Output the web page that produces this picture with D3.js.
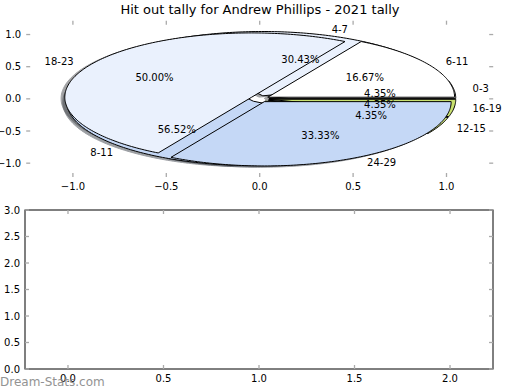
<!DOCTYPE html>
<html>
<head>
<meta charset="utf-8">
<script src="https://cdn.jsdelivr.net/npm/d3@7"></script>
<style>
  html, body { margin: 0; padding: 0; background: #fff; }
  svg { display: block; font-family: "DejaVu Sans", sans-serif; }
</style>
</head>
<body>
<svg id="chart" width="520" height="390"></svg>
<script>
// ---------- data ----------
const title = "Hit out tally for Andrew Phillips - 2021 tally";
// first pie drawn (behind)
const labelsA = ["0-3", "4-7", "8-11", "12-15", "16-19"];
const valuesA = [1, 7, 13, 1, 1];
const colorsA = ["#ffffff", "#eaf1fd", "#c5d8f6", "#cfe47e", "#c8e06e"];
// second pie drawn (on top)
const labelsB = ["6-11", "18-23", "24-29"];
const valuesB = [1, 3, 2];
const colorsB = ["#ffffff", "#eaf1fd", "#c5d8f6"];
const explode = 0.05;
const topXTicks = [-1.0, -0.5, 0.0, 0.5, 1.0];
const topYTicks = [1.0, 0.5, 0.0, -0.5, -1.0];
const botXTicks = [0.0, 0.5, 1.0, 1.5, 2.0];
const botYTicks = [0.0, 0.5, 1.0, 1.5, 2.0, 2.5, 3.0];

// ---------- setup ----------
const svg = d3.select("#chart");
const fmt = d3.format(".1f");
const pctFmt = v => d3.format(".2f")(v) + "%";

const xT = d3.scaleLinear().domain([-1.25, 1.25]).range([26.2, 493.2]);
const yT = d3.scaleLinear().domain([-1.215, 1.215]).range([177, 20.7]);
const xB = d3.scaleLinear().domain([-0.225, 2.225]).range([25, 493]);
const yB = d3.scaleLinear().domain([0, 3]).range([369, 210]);

const line = d3.line().x(d => xT(d[0])).y(d => yT(d[1]));

function wedges(values, colors, labels) {
  const total = d3.sum(values);
  const cum = [0, ...d3.cumsum(values)];
  return values.map((v, i) => {
    const t1 = cum[i] / total * 360, t2 = cum[i + 1] / total * 360;
    const tm = (t1 + t2) / 2 * Math.PI / 180;
    const cx = explode * Math.cos(tm), cy = explode * Math.sin(tm);
    const pts = [[cx, cy]];
    const n = Math.max(8, Math.ceil((t2 - t1) / 1));
    for (let k = 0; k <= n; k++) {
      const a = (t1 + (t2 - t1) * k / n) * Math.PI / 180;
      pts.push([cx + Math.cos(a), cy + Math.sin(a)]);
    }
    return {pts, tm, cx, cy, color: colors[i], label: labels[i], pct: v / total * 100};
  });
}

const wA = wedges(valuesA, colorsA, labelsA);
const wB = wedges(valuesB, colorsB, labelsB);

// shadows (below all wedges)
const gShadow = svg.append("g");
[...wA, ...wB].forEach(w => {
  const c = d3.rgb(w.color);
  const sc = d3.rgb(c.r * 0.3, c.g * 0.3, c.b * 0.3);
  gShadow.append("path")
    .attr("d", line(w.pts.map(p => [p[0] - 0.02, p[1] - 0.02])) + "Z")
    .attr("fill", sc).attr("stroke", sc).attr("stroke-width", 1)
    .attr("opacity", 0.5);
});

// wedges
const gW = svg.append("g");
[...wA, ...wB].forEach(w => {
  gW.append("path")
    .attr("d", line(w.pts) + "Z")
    .attr("fill", w.color).attr("stroke", "#000").attr("stroke-width", 1)
    .attr("stroke-linejoin", "round");
});

// texts
const gT = svg.append("g").attr("font-size", 10).attr("fill", "#000");
[...wA, ...wB].forEach(w => {
  const lx = w.cx + 1.1 * Math.cos(w.tm), ly = w.cy + 1.1 * Math.sin(w.tm);
  gT.append("text").attr("x", xT(lx)).attr("y", yT(ly))
    .attr("dy", "0.35em")
    .attr("text-anchor", lx > 0 ? "start" : "end")
    .text(w.label);
  const px = w.cx + 0.6 * Math.cos(w.tm), py = w.cy + 0.6 * Math.sin(w.tm);
  gT.append("text").attr("x", xT(px)).attr("y", yT(py))
    .attr("dy", "0.35em").attr("text-anchor", "middle")
    .text(pctFmt(w.pct));
});

// ---------- axes helpers ----------
const tickColor = "#aaa";
function drawTicks(g, xs, ys, xTicks, yTicks, box, withLabels) {
  const [L, R, T, B] = box;
  xTicks.forEach(t => {
    const X = xs(t);
    g.append("line").attr("x1", X).attr("x2", X).attr("y1", B).attr("y2", B - 4)
      .attr("stroke", tickColor).attr("stroke-width", 1.3);
    g.append("line").attr("x1", X).attr("x2", X).attr("y1", T).attr("y2", T + 4)
      .attr("stroke", tickColor).attr("stroke-width", 1.3);
    g.append("text").attr("x", X).attr("y", B + 9).attr("dy", "0.35em")
      .attr("text-anchor", "middle").attr("font-size", 10).text(fmt(t));
  });
  yTicks.forEach(t => {
    const Y = ys(t);
    g.append("line").attr("x1", L).attr("x2", L + 4).attr("y1", Y).attr("y2", Y)
      .attr("stroke", tickColor).attr("stroke-width", 1.3);
    g.append("line").attr("x1", R).attr("x2", R - 4).attr("y1", Y).attr("y2", Y)
      .attr("stroke", tickColor).attr("stroke-width", 1.3);
    g.append("text").attr("x", L - 5).attr("y", Y).attr("dy", "0.35em")
      .attr("text-anchor", "end").attr("font-size", 10).text(fmt(t));
  });
}

// top axes (frameless)
const gTop = svg.append("g");
drawTicks(gTop, xT, yT, topXTicks, topYTicks,
  [xT.range()[0], xT.range()[1], yT.range()[1], yT.range()[0]], true);

// bottom axes
const gBot = svg.append("g");
gBot.append("rect").attr("x", xB.range()[0]).attr("y", yB.range()[1])
  .attr("width", xB.range()[1] - xB.range()[0]).attr("height", yB.range()[0] - yB.range()[1])
  .attr("fill", "none").attr("stroke", "#000").attr("stroke-width", 1);
drawTicks(gBot, xB, yB, botXTicks, botYTicks,
  [xB.range()[0], xB.range()[1], yB.range()[1], yB.range()[0]], true);

// title
svg.append("text").attr("x", 260).attr("y", 14).attr("text-anchor", "middle")
  .attr("font-size", 13).text(title);

// watermark
svg.append("text").attr("x", 0).attr("y", 386).attr("font-size", 12)
  .attr("fill", "#888").attr("opacity", 0.9).text("Dream-Stats.com");
</script>
</body>
</html>
